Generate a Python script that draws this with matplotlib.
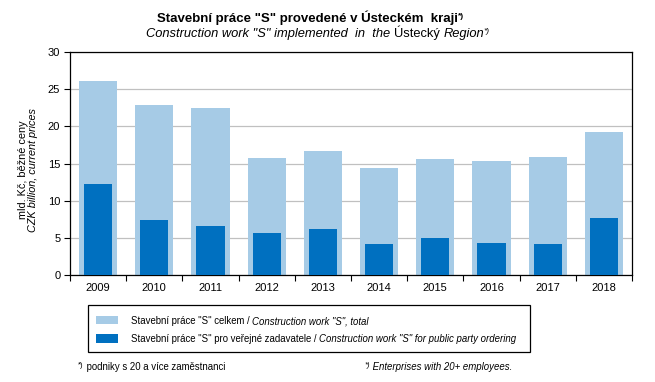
import matplotlib
matplotlib.use("Agg")
import matplotlib.pyplot as plt
import numpy as np
from matplotlib.patches import Rectangle

plt.rcParams['font.family'] = ['Liberation Sans', 'DejaVu Sans']

years = ['2009', '2010', '2011', '2012', '2013', '2014', '2015', '2016', '2017', '2018']
total = [26.1, 22.9, 22.5, 15.7, 16.7, 14.4, 15.6, 15.3, 15.9, 19.2]
public = [12.25, 7.4, 6.6, 5.65, 6.2, 4.2, 5.0, 4.3, 4.2, 7.65]

c_light = '#a6cbe6'
c_dark = '#0070c0'

W, H = 655, 382
fig = plt.figure(figsize=(6.55, 3.82), dpi=100)
ax = fig.add_axes([70/W, 1-275/H, (632-70)/W, (275-52)/H])

x = np.arange(len(years))
ax.bar(x, total, width=0.68, color=c_light, zorder=2)
ax.bar(x, public, width=0.5, color=c_dark, zorder=3)

ax.set_xlim(-0.5, len(years)-0.5)
ax.set_ylim(0, 30)
ax.set_yticks(range(0, 31, 5))
ax.yaxis.grid(True, color='#c0c0c0', linewidth=0.9, zorder=0)
ax.set_axisbelow(True)
ax.set_xticks(x)
ax.set_xticklabels(years, fontsize=8)
ax.set_xticks(np.arange(-0.5, len(years), 1), minor=True)
ax.tick_params(axis='x', which='major', length=0, pad=6)
ax.tick_params(axis='x', which='minor', length=4, direction='out', width=0.8)
ax.tick_params(axis='y', labelsize=8, length=4, direction='out', width=0.8, pad=3)
for s in ax.spines.values():
    s.set_linewidth(0.9)
    s.set_color('black')

fig.text(23/W, 1-170/H, 'mld. Kč, běžné ceny', rotation=90, ha='center', va='center', fontsize=7.8)
fig.text(33/W, 1-170/H, 'CZK billion, current prices', rotation=90, ha='center', va='center',
         fontsize=7.8, style='italic')

renderer = fig.canvas.get_renderer()


def pieces(x0, y0, parts, ha='left'):
    """parts: list of (text, kwargs, dy_px). Draw side by side, positions in pixels."""
    arts = []
    widths = []
    for txt, kw, dy in parts:
        t = fig.text(0, 0, txt, va='baseline', ha='left', **kw)
        bb = t.get_window_extent(renderer)
        arts.append((t, dy))
        widths.append(bb.width)
    total_w = sum(widths)
    if ha == 'center':
        xs = x0 - total_w/2
    elif ha == 'right':
        xs = x0 - total_w
    else:
        xs = x0
    for (t, dy), w in zip(arts, widths):
        t.set_position((xs/W, 1-(y0-dy)/H))
        xs += w


pieces(311, 22, [('Stavební práce "S" provedené v Ústeckém  kraji', dict(fontsize=9.5, fontweight='bold'), 0),
                 ('*)', dict(fontsize=6, fontweight='bold'), 4)], ha='center')
pieces(318, 37, [('Construction work "S" implemented  in  the ', dict(fontsize=9.3, style='italic'), 0),
                 ('Ústecký ', dict(fontsize=9.3), 0),
                 ('Region', dict(fontsize=9.3, style='italic'), 0),
                 ('*)', dict(fontsize=6, style='italic'), 4)], ha='center')

# legend box
fig.patches.append(Rectangle((88/W, 1-352/H), (530-88)/W, (352-305)/H, transform=fig.transFigure,
                             facecolor='white', edgecolor='black', linewidth=0.9))
fig.patches.append(Rectangle((96/W, 1-324/H), 22/W, 8/H, transform=fig.transFigure,
                             facecolor=c_light, edgecolor='none'))
fig.patches.append(Rectangle((96/W, 1-343/H), 22/W, 9/H, transform=fig.transFigure,
                             facecolor=c_dark, edgecolor='none'))
pieces(131, 324, [('Stavební práce "S" celkem / ', dict(fontsize=6.9), 0),
                  ('Construction work "S", total', dict(fontsize=6.9, style='italic'), 0)])
pieces(131, 342, [('Stavební práce "S" pro veřejné zadavatele / ', dict(fontsize=6.9), 0),
                  ('Construction work "S" for public party ordering', dict(fontsize=6.9, style='italic'), 0)])

pieces(78, 370, [('*)', dict(fontsize=5.5), 3), (' podniky s 20 a více zaměstnanci', dict(fontsize=6.9), 0)])
pieces(512, 370, [('*)', dict(fontsize=5.5, style='italic'), 3),
                  (' Enterprises with 20+ employees.', dict(fontsize=6.9, style='italic'), 0)], ha='right')

fig.savefig('out.png', dpi=100)
